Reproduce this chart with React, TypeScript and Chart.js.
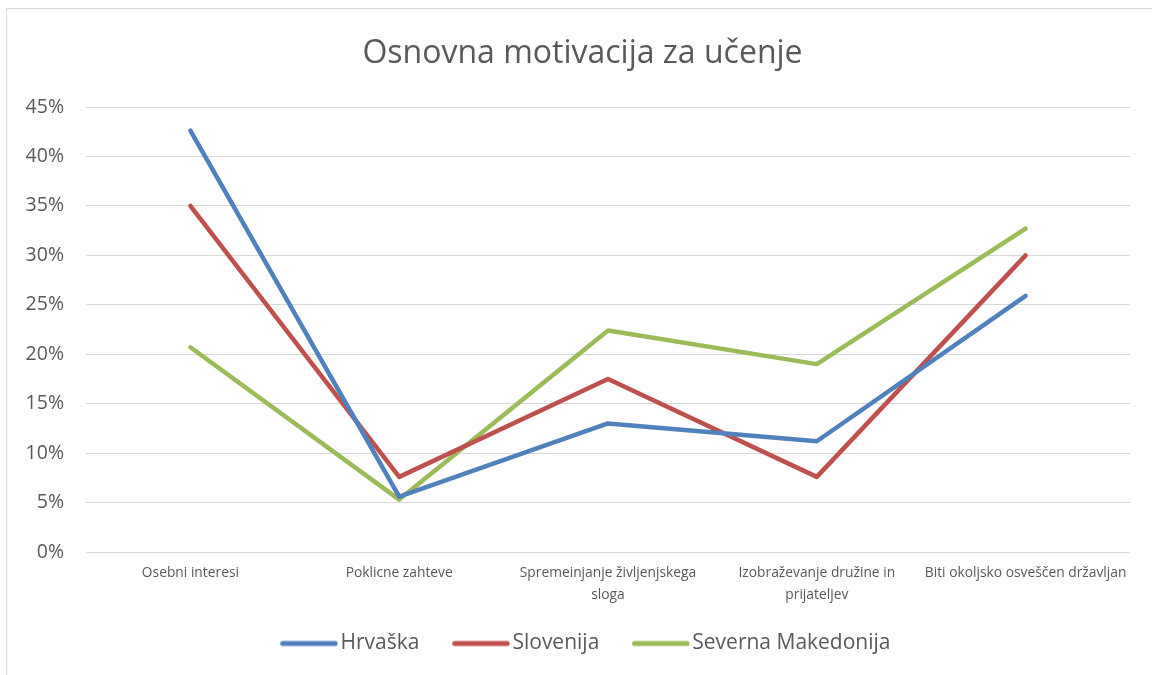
import React, { useEffect, useRef } from "react";
import { Chart, registerables } from "chart.js";

Chart.register(...registerables);

const categories = [
  "Osebni interesi",
  "Poklicne zahteve",
  "Spremeinjanje življenjskega sloga",
  "Izobraževanje družine in prijateljev",
  "Biti okoljsko osveščen državljan",
];
const seriesNames = ["Hrvaška", "Slovenija", "Severna Makedonija"];
const hrvaska = [42.6, 5.6, 13.0, 11.2, 25.9];
const slovenija = [35.0, 7.6, 17.5, 7.6, 30.0];
const severnaMakedonija = [20.7, 5.3, 22.4, 19.0, 32.7];
const seriesColors = ["#4F81BD", "#C0504D", "#9BBB59"];
const yMin = 0;
const yMax = 45;
const yStep = 5;
const titleText = "Osnovna motivacija za učenje";

const FONT = "'Open Sans', sans-serif";
const X_FONT_SIZE = 13.8;

function wrapLabel(text: string, maxWidth: number, font: string): string[] {
  const c = document.createElement("canvas").getContext("2d");
  if (!c) return [text];
  c.font = font;
  const words = text.split(" ");
  const lines: string[] = [];
  let cur = "";
  for (const w of words) {
    const test = cur ? cur + " " + w : w;
    if (c.measureText(test).width > maxWidth && cur) {
      lines.push(cur);
      cur = w;
    } else {
      cur = test;
    }
  }
  if (cur) lines.push(cur);
  return lines;
}

// Legend swatch: a thick rounded line, placed so it sits right next to the label text
function makeSwatch(color: string): HTMLCanvasElement {
  const c = document.createElement("canvas");
  c.width = 70;
  c.height = 10;
  const ctx = c.getContext("2d");
  if (ctx) {
    ctx.strokeStyle = color;
    ctx.lineWidth = 5;
    ctx.lineCap = "round";
    ctx.beginPath();
    ctx.moveTo(13.5, 5);
    ctx.lineTo(66, 5);
    ctx.stroke();
  }
  return c;
}

const layoutTweak = {
  id: "layoutTweak",
  afterLayout(chart: any) {
    const lg = chart.legend;
    if (lg) {
      lg.left = 39;
      lg.top -= 11;
      lg.bottom -= 11;
    }
    const tb = chart.titleBlock;
    if (tb) {
      tb.left = 35;
    }
  },
};

export default function App() {
  const ref = useRef<HTMLCanvasElement | null>(null);

  useEffect(() => {
    if (!ref.current) return;
    const seriesData = [hrvaska, slovenija, severnaMakedonija];
    const chart = new Chart(ref.current, {
      type: "line",
      data: {
        labels: categories,
        datasets: seriesNames.map((name, i) => ({
          label: name,
          data: seriesData[i],
          borderColor: seriesColors[i],
          backgroundColor: seriesColors[i],
          borderWidth: 4.5,
          borderCapStyle: "round" as const,
          borderJoinStyle: "round" as const,
          pointRadius: 0,
          pointHoverRadius: 0,
          pointStyle: makeSwatch(seriesColors[i]) as any,
          tension: 0,
          fill: false,
        })),
      },
      options: {
        animation: false,
        responsive: false,
        maintainAspectRatio: false,
        layout: { padding: { left: 0, right: 22, top: 0, bottom: 0 } },
        plugins: {
          title: {
            display: true,
            text: titleText,
            color: "#595959",
            font: { family: FONT, size: 32, weight: "normal" },
            padding: { top: 34.5, bottom: 34.1 },
          },
          legend: {
            display: true,
            position: "bottom",
            labels: {
              color: "#595959",
              font: { family: FONT, size: 21 },
              usePointStyle: true,
              pointStyleWidth: 51.5,
              boxWidth: 51.5,
              boxHeight: 21,
              padding: 31,
            },
          },
          tooltip: { enabled: false },
        },
        scales: {
          x: {
            offset: true,
            grid: { display: false, drawTicks: false },
            border: { display: false },
            ticks: {
              color: "#595959",
              font: { family: FONT, size: X_FONT_SIZE, lineHeight: 1.6 },
              padding: 10,
              maxRotation: 0,
              minRotation: 0,
              autoSkip: false,
              callback: function (_v: any, idx: number) {
                return wrapLabel(categories[idx], 207, `${X_FONT_SIZE}px ${FONT}`);
              },
            },
            afterFit: (scale: any) => {
              scale.height = 61;
            },
          },
          y: {
            min: yMin,
            max: yMax,
            grid: { color: "#D9D9D9", lineWidth: 1, drawTicks: false },
            border: { display: false },
            ticks: {
              stepSize: yStep,
              color: "#595959",
              font: { family: FONT, size: 19.5 },
              padding: 22,
              callback: (v: any) => `${v}%`,
            },
            afterFit: (scale: any) => {
              scale.width = 86;
            },
          },
        },
      },
      plugins: [layoutTweak],
    });
    return () => chart.destroy();
  }, []);

  return (
    <div style={{ position: "fixed", left: 0, top: 0, width: 1152, height: 675, background: "#fff", overflow: "hidden" }}>
      <div
        style={{
          position: "absolute",
          left: 6,
          top: 8,
          width: 1200,
          height: 720,
          border: "1px solid #D9D9D9",
        }}
      />
      <canvas ref={ref} width={1152} height={675} style={{ position: "absolute", left: 0, top: 0, width: 1152, height: 675 }} />
    </div>
  );
}
